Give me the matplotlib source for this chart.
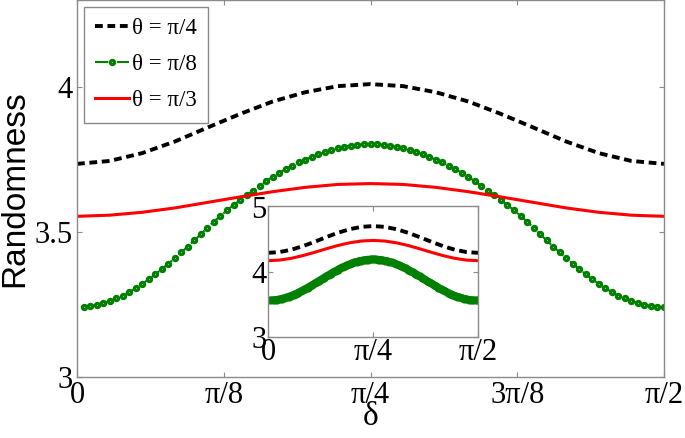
import matplotlib.pyplot as plt
import numpy as np

# delta en grados; los ticks se etiquetan como fracciones de pi
delta_5 = np.arange(0, 91, 5)
delta_1 = np.arange(1, 91)

# curvas principales
rand_pi4 = [3.735, 3.745, 3.772, 3.812, 3.860, 3.907, 3.950, 3.982, 4.003, 4.010,
            4.003, 3.982, 3.950, 3.907, 3.860, 3.812, 3.772, 3.745, 3.735]
rand_pi3 = [3.554, 3.558, 3.568, 3.583, 3.602, 3.621, 3.639, 3.654, 3.664, 3.667,
            3.664, 3.654, 3.639, 3.621, 3.602, 3.583, 3.568, 3.558, 3.554]
rand_pi8 = [3.242, 3.245, 3.249, 3.255, 3.262, 3.271, 3.281, 3.293, 3.306, 3.321,
            3.337, 3.354, 3.372, 3.391, 3.410, 3.430, 3.450, 3.471, 3.493, 3.515,
            3.536, 3.556, 3.575, 3.593, 3.610, 3.627, 3.643, 3.659, 3.675, 3.690,
            3.704, 3.717, 3.729, 3.740, 3.750, 3.759, 3.768, 3.776, 3.783, 3.789,
            3.794, 3.798, 3.801, 3.803, 3.804, 3.803, 3.801, 3.798, 3.794, 3.789,
            3.783, 3.776, 3.768, 3.759, 3.750, 3.740, 3.729, 3.717, 3.704, 3.690,
            3.675, 3.659, 3.643, 3.627, 3.610, 3.593, 3.575, 3.556, 3.536, 3.515,
            3.493, 3.471, 3.450, 3.430, 3.410, 3.391, 3.372, 3.354, 3.337, 3.321,
            3.306, 3.293, 3.281, 3.271, 3.262, 3.255, 3.249, 3.245, 3.242, 3.240]

# curvas del recuadro
ins_pi4 = [4.290, 4.302, 4.338, 4.393, 4.459, 4.531, 4.598, 4.652, 4.688, 4.700,
           4.688, 4.652, 4.598, 4.531, 4.459, 4.393, 4.338, 4.302, 4.290]
ins_pi3 = [4.170, 4.179, 4.206, 4.248, 4.298, 4.352, 4.403, 4.444, 4.471, 4.480,
           4.471, 4.444, 4.403, 4.352, 4.298, 4.248, 4.206, 4.179, 4.170]
ins_pi8 = [3.561, 3.563, 3.567, 3.572, 3.579, 3.587, 3.597, 3.608, 3.620, 3.634,
           3.648, 3.664, 3.681, 3.699, 3.718, 3.737, 3.757, 3.778, 3.799, 3.820,
           3.842, 3.864, 3.886, 3.908, 3.930, 3.951, 3.972, 3.993, 4.013, 4.033,
           4.051, 4.069, 4.086, 4.102, 4.116, 4.130, 4.142, 4.153, 4.163, 4.171,
           4.178, 4.183, 4.187, 4.189, 4.190, 4.189, 4.187, 4.183, 4.178, 4.171,
           4.163, 4.153, 4.142, 4.130, 4.116, 4.102, 4.086, 4.069, 4.051, 4.033,
           4.013, 3.993, 3.972, 3.951, 3.930, 3.908, 3.886, 3.864, 3.842, 3.820,
           3.799, 3.778, 3.757, 3.737, 3.718, 3.699, 3.681, 3.664, 3.648, 3.634,
           3.620, 3.608, 3.597, 3.587, 3.579, 3.572, 3.567, 3.563, 3.561, 3.560]

xt_main = [0, 22.5, 45, 67.5, 90]
xl_main = ['0', 'π/8', 'π/4', '3π/8', 'π/2']
xt_ins = [0, 45, 90]
xl_ins = ['0', 'π/4', 'π/2']

serif = 'Liberation Serif'
gris = '#8a8a8a'
verde = '#008000'


def estilo(ax):
    for s in ax.spines.values():
        s.set_color(gris)
        s.set_linewidth(1.0)
    ax.tick_params(direction='in', length=3.5, width=0.8, color=gris,
                   top=True, right=True, labelsize=22, pad=3)
    for lab in ax.get_xticklabels() + ax.get_yticklabels():
        lab.set_family(serif)


fig = plt.figure(figsize=(6.85, 4.38), dpi=100)
ax = fig.add_axes([77 / 685, 61 / 438, 587 / 685, 377 / 438])

ax.plot(delta_5, rand_pi4, color='k', lw=2.8, dashes=(2.0, 1.2), label='θ = π/4')
ax.plot(delta_1, rand_pi8, color=verde, ls='-.', lw=1.5, marker='o', ms=3.0,
        mfc='w', mec=verde, mew=2.3, label='θ = π/8')
ax.plot(delta_5, rand_pi3, color='r', lw=2.2, label='θ = π/3')

ax.set_xlim(0, 90)
ax.set_ylim(3, 4.3)
ax.set_xticks(xt_main)
ax.set_xticklabels(xl_main)
ax.set_yticks([3, 3.5, 4])
ax.set_yticklabels(['3', '3.5', '4'])
estilo(ax)
ax.set_xlabel('δ', family=serif, fontsize=24, labelpad=-6)
ax.set_ylabel('Randomness', family='Liberation Sans', fontsize=24, labelpad=3)

leg = ax.legend(loc='upper left', prop={'family': serif, 'size': 16.5},
                frameon=True, fancybox=False, edgecolor=gris, framealpha=1,
                handlelength=1.45, handletextpad=0.15, labelspacing=0.65,
                borderaxespad=0.3, borderpad=0.5, numpoints=1)
leg.get_frame().set_linewidth(1.0)

ins = fig.add_axes([268 / 685, 101 / 438, 210 / 685, 130.5 / 438])
ins.plot(delta_5, ins_pi4, color='k', lw=2.8, dashes=(2.0, 1.2))
ins.plot(delta_5, ins_pi3, color='r', lw=2.2)
ins.plot(delta_1, ins_pi8, color=verde, ls='-', lw=5.5, marker='o', ms=3.4,
         mfc=verde, mec=verde, mew=2.4, solid_capstyle='round')
ins.set_xlim(0, 90)
ins.set_ylim(3, 5)
ins.set_xticks(xt_ins)
ins.set_xticklabels(xl_ins)
ins.set_yticks([3, 4, 5])
estilo(ins)
ins.tick_params(pad=1)

fig.savefig('out.png', dpi=100)
